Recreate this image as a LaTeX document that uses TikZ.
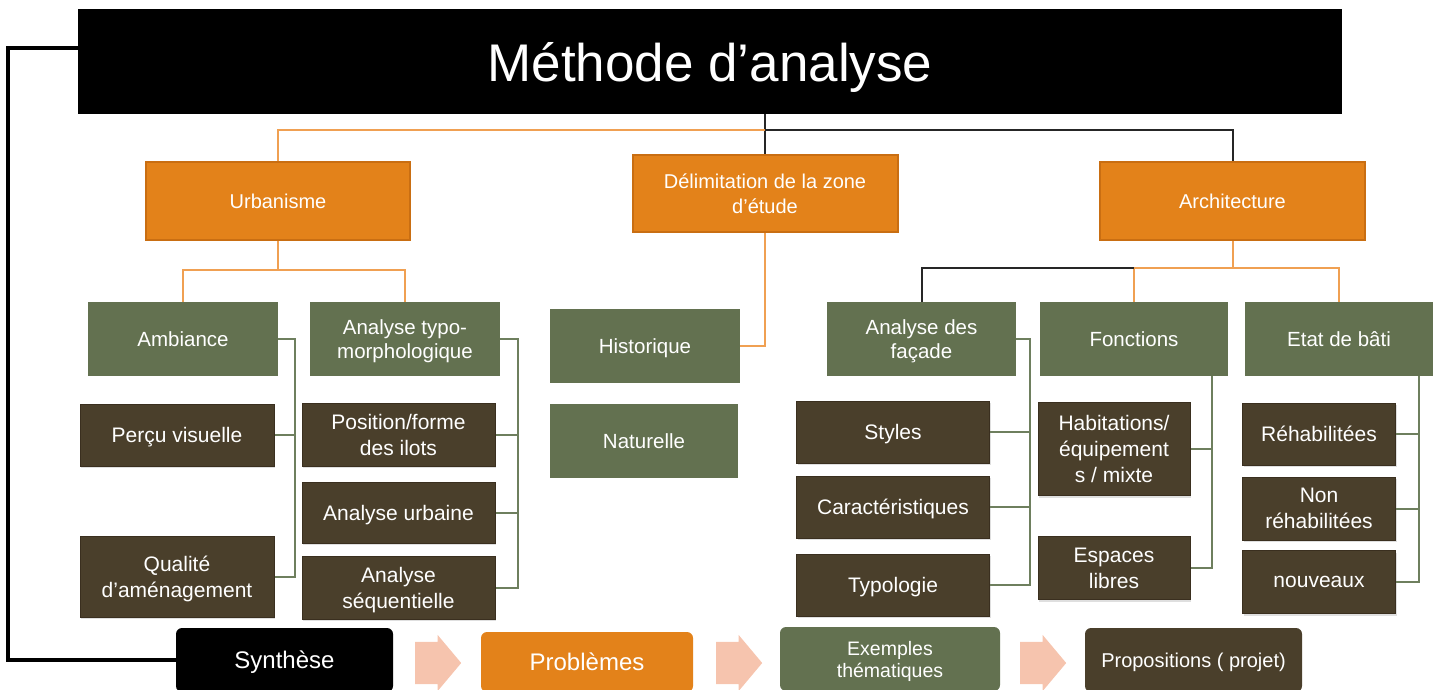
\documentclass[tikz,border=0pt]{standalone}
\usepackage{fontspec}
\setmainfont{Liberation Sans}
\usetikzlibrary{shapes.arrows,calc,shadows}
\definecolor{orfill}{HTML}{E3821A}
\definecolor{ordraw}{HTML}{C96E12}
\definecolor{grfill}{HTML}{637150}
\definecolor{brfill}{HTML}{4A3F2B}
\definecolor{brdraw}{HTML}{3A2F1F}
\definecolor{orline}{HTML}{F0A052}
\definecolor{grline}{HTML}{6E7F5E}
\definecolor{salmon}{HTML}{F6C4AE}
\begin{document}
\begin{tikzpicture}[x=1pt,y=-1pt,
  box/.style={rectangle, inner sep=0pt, align=center, text=white, text depth=0pt},
  obox/.style={box, fill=orfill, draw=ordraw, line width=2pt, font=\fontsize{20}{25}\selectfont},
  gbox/.style={box, fill=grfill, font=\fontsize{20.5}{24}\selectfont},
  brbox/.style={box, fill=brfill, draw=brdraw, line width=1pt, font=\fontsize{21}{26}\selectfont,
     drop shadow={shadow xshift=1pt, shadow yshift=-2pt, opacity=0.25}},
  rbox/.style={box, rounded corners=6pt},
  oc/.style={draw=orline, line width=2pt},
  bc/.style={draw=black!85, line width=2pt},
  gc/.style={draw=grline, line width=2pt},
  blc/.style={draw=black, line width=3.5pt},
  sarrow/.style={single arrow, fill=salmon, inner sep=0pt, minimum height=46, anchor=tail,
     single arrow head extend=7, single arrow tip angle=100, single arrow head indent=0pt}]
\useasboundingbox (0,0) rectangle (1441,690);
\clip (0,0) rectangle (1441,690);

% title
\node[box, fill=black, minimum width=1264, minimum height=105, font=\fontsize{53}{60}\selectfont] (title) at (710,61.5) {Méthode d’analyse};

% level 1
\node[obox, minimum width=264, minimum height=78] (urb) at (278,201) {Urbanisme};
\node[obox, minimum width=265, minimum height=77] (delim) at (765,193.5) {Délimitation de la zone\\d’étude};
\node[obox, minimum width=265, minimum height=78] (arch) at (1232.5,201) {Architecture};

% level 2
\node[gbox, minimum width=190, minimum height=74] (amb) at (183,339) {Ambiance};
\node[gbox, minimum width=190, minimum height=74] (typo) at (405,339) {Analyse typo-\\morphologique};
\node[gbox, minimum width=190, minimum height=74] (hist) at (645,346) {Historique};
\node[gbox, minimum width=188, minimum height=74] (nat) at (644,441) {Naturelle};
\node[gbox, minimum width=189, minimum height=74] (fac) at (921.5,339) {Analyse des\\façade};
\node[gbox, minimum width=188, minimum height=74] (fon) at (1134,339) {Fonctions};
\node[gbox, minimum width=188, minimum height=74] (etat) at (1339,339) {Etat de bâti};

% level 3
\node[brbox, minimum width=194, minimum height=62] (percu) at (177,435) {Perçu visuelle};
\node[brbox, minimum width=194, minimum height=81] (qual) at (177,576.5) {Qualité\\d’aménagement};
\node[brbox, minimum width=193, minimum height=63] (pos) at (398.5,434.5) {Position/forme\\des ilots};
\node[brbox, minimum width=193, minimum height=61] (urbaine) at (398.5,512.5) {Analyse urbaine};
\node[brbox, minimum width=193, minimum height=63] (seq) at (398.5,587.5) {Analyse\\séquentielle};
\node[brbox, minimum width=193, minimum height=62] (styles) at (893,432) {Styles};
\node[brbox, minimum width=193, minimum height=62] (carac) at (893,507) {Caractéristiques};
\node[brbox, minimum width=193, minimum height=62] (typol) at (893,585) {Typologie};
\node[brbox, minimum width=152, minimum height=93] (hab) at (1114,449) {Habitations/\\équipement\\s / mixte};
\node[brbox, minimum width=152, minimum height=63] (esp) at (1114,568) {Espaces\\libres};
\node[brbox, minimum width=153, minimum height=62] (rehab) at (1319,434) {Réhabilitées};
\node[brbox, minimum width=153, minimum height=63] (nonr) at (1319,508.5) {Non\\réhabilitées};
\node[brbox, minimum width=153, minimum height=63] (nouv) at (1319,582) {nouveaux};

% bottom row
\node[rbox, fill=black, minimum width=217, minimum height=64, font=\fontsize{24}{28}\selectfont] (synth) at (284.5,660) {Synthèse};
\node[rbox, fill=orfill, minimum width=212, minimum height=60, font=\fontsize{24}{28}\selectfont] (prob) at (587,662) {Problèmes};
\node[rbox, fill=grfill, minimum width=220, minimum height=64, font=\fontsize{19.5}{22}\selectfont] (exemp) at (890,659) {Exemples\\thématiques};
\node[rbox, fill=brfill, minimum width=217, minimum height=64, font=\fontsize{20}{24}\selectfont] (prop) at (1193.5,660) {Propositions ( projet)};
\node[sarrow] (arr1) at (415,663) {\rule{0pt}{42pt}};
\node[sarrow] (arr2) at (716,663) {\rule{0pt}{42pt}};
\node[sarrow] (arr3) at (1020,663) {\rule{0pt}{42pt}};

% top connectors
\coordinate (j0) at (765,130);
\draw[bc] (title.south -| delim.north) -- (delim.north);
\draw[oc] (j0) -| (urb.north);
\draw[bc] (j0) -| (arch.north);

% urbanisme
\coordinate (j1) at (278,270);
\draw[oc] (urb.south) -- (j1);
\draw[oc] (j1) -| (amb.north);
\draw[oc] (j1) -| (typo.north);

% delimitation
\draw[oc] (delim.south) |- (hist.east);

% architecture
\coordinate (j2) at (1232.5,268);
\coordinate (j3) at (fon.north |- j2);
\draw[oc] (arch.south) -- (j2);
\draw[oc] (j3) -- (fon.north);
\draw[oc] (j3) -| (etat.north);
\draw[bc] (j3) -| (fac.north);

% green connectors
\coordinate (ambv) at ([xshift=17pt]amb.east);
\draw[gc] (amb.east) -- (ambv) |- (qual.east);
\draw[gc] (ambv) |- (percu.east);

\coordinate (typov) at ([xshift=18pt]typo.east);
\draw[gc] (typo.east) -- (typov) |- (seq.east);
\draw[gc] (typov) |- (pos.east);
\draw[gc] (typov) |- (urbaine.east);

\coordinate (facv) at ([xshift=14pt]fac.east);
\draw[gc] (fac.east) -- (facv) |- (typol.east);
\draw[gc] (facv) |- (styles.east);
\draw[gc] (facv) |- (carac.east);

\coordinate (fonv) at ([xshift=78pt]fon.south);
\draw[gc] (fonv) |- (esp.east);
\draw[gc] (fonv) |- (hab.east);

\coordinate (etatv) at ([xshift=80pt]etat.south);
\draw[gc] (etatv) |- (nouv.east);
\draw[gc] (etatv) |- (rehab.east);
\draw[gc] (etatv) |- (nonr.east);

% left synthesis connector
\coordinate (lbend) at (8,48);
\draw[blc, line join=miter] ([yshift=13.5pt]title.west) -- (lbend) |- (synth.west);
\end{tikzpicture}
\end{document}
